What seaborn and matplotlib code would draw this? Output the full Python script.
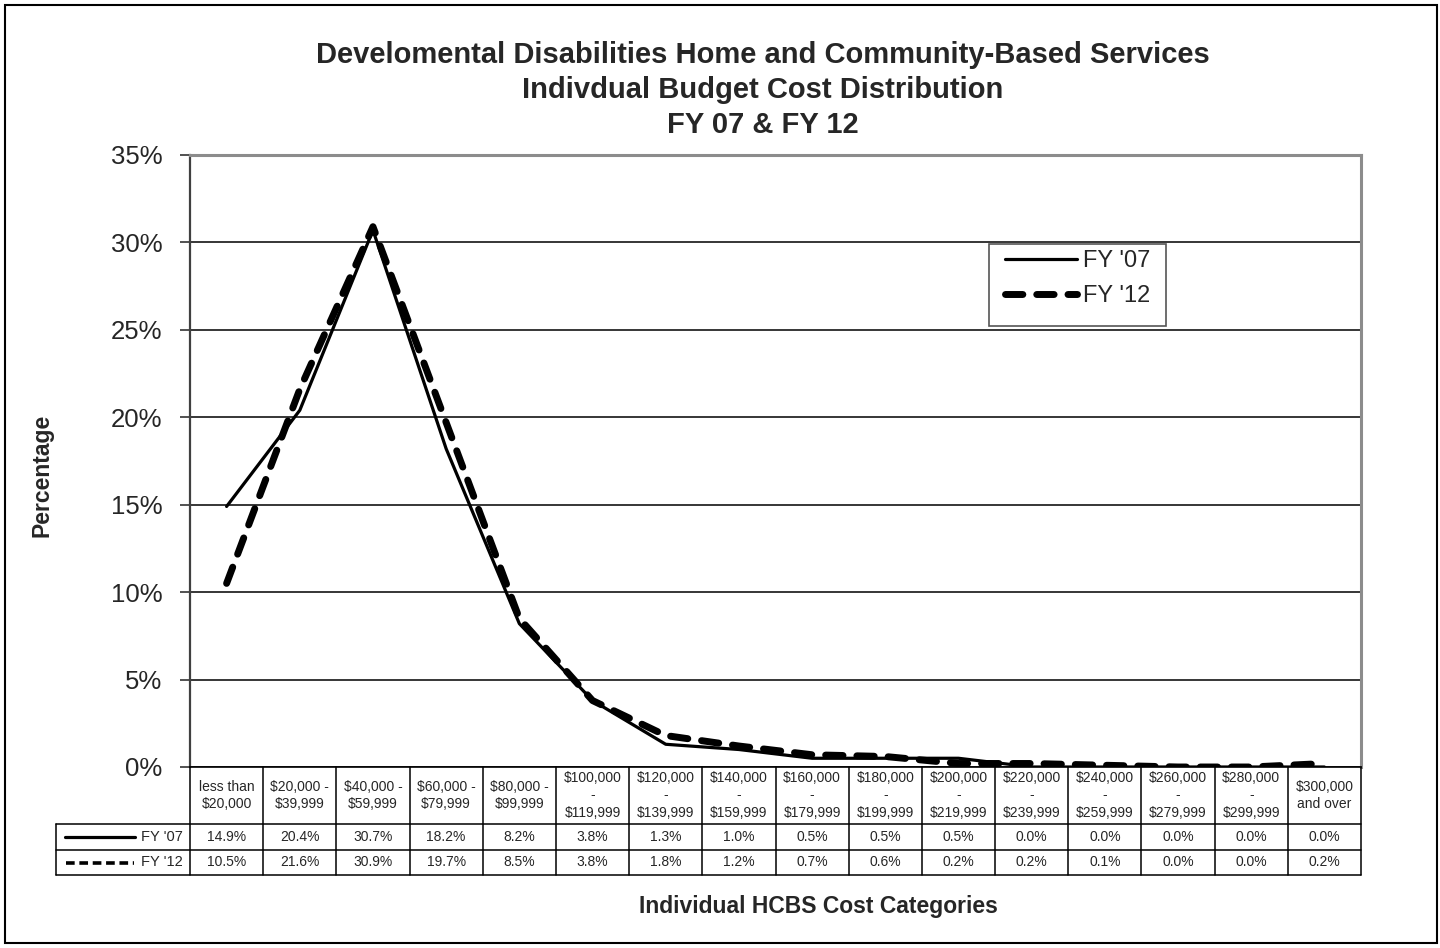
import matplotlib
matplotlib.use("Agg")
import matplotlib.pyplot as plt
from matplotlib.lines import Line2D
from matplotlib.patches import Rectangle
from matplotlib.transforms import blended_transform_factory
import seaborn as sns
import pandas as pd

# ---------------- data ----------------
categories = [
    "less than\n$20,000", "$20,000 -\n$39,999", "$40,000 -\n$59,999",
    "$60,000 -\n$79,999", "$80,000 -\n$99,999", "$100,000\n-\n$119,999",
    "$120,000\n-\n$139,999", "$140,000\n-\n$159,999", "$160,000\n-\n$179,999",
    "$180,000\n-\n$199,999", "$200,000\n-\n$219,999", "$220,000\n-\n$239,999",
    "$240,000\n-\n$259,999", "$260,000\n-\n$279,999", "$280,000\n-\n$299,999",
    "$300,000\nand over",
]
fy07 = [14.9, 20.4, 30.7, 18.2, 8.2, 3.8, 1.3, 1.0, 0.5, 0.5, 0.5, 0.0, 0.0, 0.0, 0.0, 0.0]
fy12 = [10.5, 21.6, 30.9, 19.7, 8.5, 3.8, 1.8, 1.2, 0.7, 0.6, 0.2, 0.2, 0.1, 0.0, 0.0, 0.2]
series_names = ["FY '07", "FY '12"]
yticks = [0, 5, 10, 15, 20, 25, 30, 35]
title_lines = [
    "Develomental Disabilities Home and Community-Based Services",
    "Indivdual Budget Cost Distribution",
    "FY 07 & FY 12",
]
y_label = "Percentage"
x_label = "Individual HCBS Cost Categories"

# ---------------- style ----------------
sns.set_theme(style="white")
plt.rcParams["font.family"] = ["Liberation Sans", "DejaVu Sans"]

W, H = 1440, 948
fig = plt.figure(figsize=(W / 100, H / 100), dpi=100)
fx = lambda p: p / W
fy = lambda p: 1 - p / H

L, R, T, B = 190, 1361, 155, 767
ax = fig.add_axes([fx(L), fy(B), fx(R - L), (B - T) / H])

df = pd.DataFrame({"pos": list(range(len(categories))) * 2,
                   "value": fy07 + fy12,
                   "series": [series_names[0]] * len(fy07) + [series_names[1]] * len(fy12)})

d07 = df[df.series == series_names[0]]
d12 = df[df.series == series_names[1]]
sns.lineplot(data=d07, x="pos", y="value", ax=ax, color="black", lw=2.3,
             label=series_names[0], zorder=4, sort=False)
sns.lineplot(data=d12, x="pos", y="value", ax=ax, color="black", lw=5.0,
             linestyle=(0, (2.5, 2.0)), dash_capstyle="round", solid_capstyle="round",
             label=series_names[1], zorder=5, sort=False)

ax.set_xlim(-0.5, len(categories) - 0.5)
ax.set_ylim(0, 35)
ax.set_yticks(yticks)
ax.set_yticklabels([f"{v}%" for v in yticks], fontsize=18.5)
ax.set_xticks([])
ax.set_xlabel("")
ax.set_ylabel("")
ax.tick_params(axis="y", length=7, width=1.2, color="#333333", pad=13, left=True, direction="out")
ax.yaxis.grid(True, color="black", lw=1.1)
ax.set_axisbelow(True)
ax.spines["left"].set_color("#404040"); ax.spines["left"].set_linewidth(1.6)
ax.spines["bottom"].set_color("black"); ax.spines["bottom"].set_linewidth(1.2)
for s in ["top", "right"]:
    ax.spines[s].set_color("#8c8c8c"); ax.spines[s].set_linewidth(2.2)

# legend (frameless; box drawn separately)
leg = ax.legend(loc="upper left", bbox_to_anchor=(fx(1005), fy(250)),
                bbox_transform=fig.transFigure, frameon=False, fontsize=17,
                handlelength=3.05, handletextpad=0.25, borderpad=0, borderaxespad=0,
                labelspacing=0.55)
fig.add_artist(Rectangle((fx(989), fy(326)), fx(1166 - 989), (326 - 244) / H,
                         transform=fig.transFigure, fill=False, ec="#555555", lw=1.2, zorder=6))

# title
for i, t in enumerate(title_lines):
    fig.text(fx(763), fy(63 + 35 * i), t, ha="center", va="baseline",
             fontsize=21, fontweight="bold")

fig.text(fx(42), fy(475), y_label, rotation=90, ha="center", va="center",
         fontsize=16.5, fontweight="bold")
fig.text(fx(818), fy(913), x_label, ha="center", va="baseline",
         fontsize=16.5, fontweight="bold")

# data table
trans = blended_transform_factory(ax.transData, fig.transFigure)
n = len(categories)
row_hdr_bot, row1_bot, row2_bot = 824, 850, 875
tbl_lw = 1.1
for i in range(n + 1):
    fig.add_artist(Line2D([i - 0.5, i - 0.5], [fy(B), fy(row2_bot)], transform=trans,
                          color="black", lw=tbl_lw))
for yy in [row_hdr_bot, row1_bot, row2_bot]:
    fig.add_artist(Line2D([fx(56), fx(R)], [fy(yy), fy(yy)], transform=fig.transFigure,
                          color="black", lw=tbl_lw))
fig.add_artist(Line2D([fx(56), fx(56)], [fy(row_hdr_bot), fy(row2_bot)],
                      transform=fig.transFigure, color="black", lw=tbl_lw))

for i, c in enumerate(categories):
    fig.text(i, fy((B + row_hdr_bot) / 2), c, transform=trans, ha="center", va="center",
             fontsize=10, linespacing=1.3)
for i, v in enumerate(fy07):
    fig.text(i, fy((row_hdr_bot + row1_bot) / 2), f"{v:.1f}%", transform=trans,
             ha="center", va="center", fontsize=10)
for i, v in enumerate(fy12):
    fig.text(i, fy((row1_bot + row2_bot) / 2), f"{v:.1f}%", transform=trans,
             ha="center", va="center", fontsize=10)

# legend keys inside the table
y1 = fy((row_hdr_bot + row1_bot) / 2)
y2 = fy((row1_bot + row2_bot) / 2)
fig.add_artist(Line2D([fx(65), fx(135)], [y1, y1], transform=fig.transFigure,
                      color="black", lw=2.3))
fig.add_artist(Line2D([fx(66), fx(134)], [y2, y2], transform=fig.transFigure,
                      color="black", lw=2.6, linestyle=(0, (2.4, 1.3)),
                      dash_capstyle="butt"))
fig.text(fx(183), y1, series_names[0], ha="right", va="center", fontsize=10.5)
fig.text(fx(183), y2, series_names[1], ha="right", va="center", fontsize=10.5)

# outer border
fig.add_artist(Rectangle((fx(5), fy(943)), fx(1432), 938 / H, transform=fig.transFigure,
                         fill=False, ec="black", lw=1.5))

fig.savefig("out.png", dpi=100, facecolor="white")
